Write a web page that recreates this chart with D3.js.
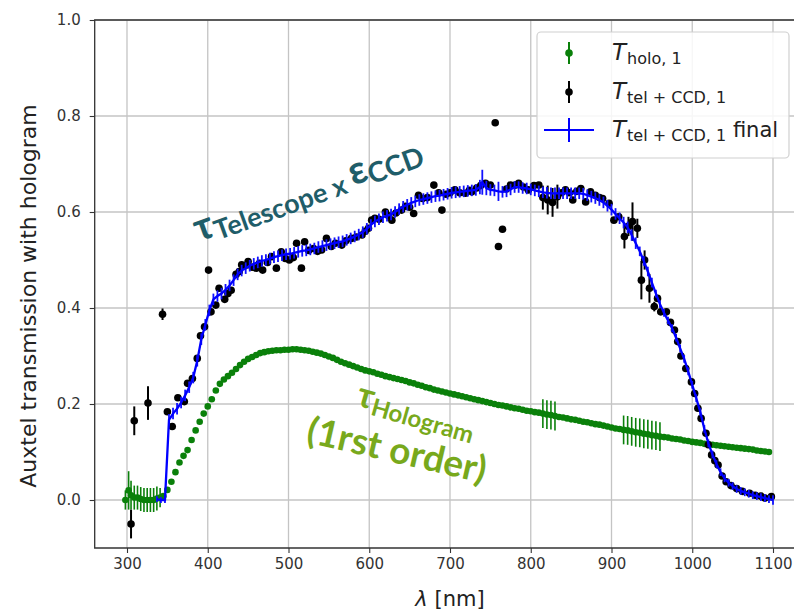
<!DOCTYPE html>
<html>
<head>
<meta charset="utf-8">
<script src="https://cdn.jsdelivr.net/npm/d3@7"></script>
<style>
  html, body { margin: 0; background: #fff; overflow: hidden; }
  svg { display: block; }
</style>
</head>
<body>
<svg id="chart" width="820" height="613"></svg>
<script>
// T_holo,1 : [wavelength nm, transmission, error]
const holoData = [
  [298, 0.000, 0.020], [302, 0.020, 0.040], [305, 0.010, 0.030], [309, 0.005, 0.025],
  [313, 0.005, 0.025], [317, 0.002, 0.025], [321, 0.000, 0.025], [325, 0.000, 0.025],
  [329, 0.000, 0.025], [333, 0.000, 0.025], [337, 0.003, 0.025], [341, 0.005, 0.020],
  [345, 0.008, 0], [350, 0.021, 0], [355, 0.038, 0], [360, 0.058, 0], [365, 0.078, 0],
  [370, 0.092, 0], [375, 0.104, 0], [380, 0.125, 0], [385, 0.145, 0], [390, 0.163, 0],
  [395, 0.180, 0], [400, 0.195, 0], [405, 0.210, 0], [410, 0.228, 0], [415, 0.242, 0],
  [420, 0.251, 0], [425, 0.258, 0], [430, 0.265, 0], [435, 0.273, 0], [440, 0.281, 0],
  [445, 0.288, 0], [450, 0.294, 0], [455, 0.298, 0], [460, 0.302, 0], [465, 0.306, 0],
  [470, 0.308, 0], [475, 0.310, 0], [480, 0.311, 0], [485, 0.312, 0], [490, 0.312, 0],
  [495, 0.313, 0], [500, 0.313, 0], [505, 0.314, 0], [510, 0.314, 0], [515, 0.313, 0],
  [520, 0.312, 0], [525, 0.311, 0], [530, 0.309, 0], [535, 0.307, 0], [540, 0.305, 0],
  [545, 0.302, 0], [550, 0.299, 0], [555, 0.296, 0], [560, 0.292, 0], [565, 0.288, 0],
  [570, 0.285, 0], [575, 0.282, 0], [580, 0.279, 0], [585, 0.276, 0], [590, 0.273, 0],
  [595, 0.270, 0], [600, 0.268, 0], [605, 0.266, 0], [610, 0.263, 0], [615, 0.261, 0],
  [620, 0.258, 0], [625, 0.256, 0], [630, 0.254, 0], [635, 0.252, 0], [640, 0.250, 0],
  [645, 0.248, 0], [650, 0.245, 0], [655, 0.243, 0], [660, 0.240, 0], [665, 0.238, 0],
  [670, 0.235, 0], [675, 0.233, 0], [680, 0.230, 0], [685, 0.228, 0], [690, 0.226, 0],
  [695, 0.224, 0], [700, 0.222, 0], [705, 0.220, 0], [710, 0.218, 0], [715, 0.216, 0],
  [720, 0.214, 0], [725, 0.212, 0], [730, 0.210, 0], [735, 0.208, 0], [740, 0.206, 0],
  [745, 0.204, 0], [750, 0.202, 0], [755, 0.200, 0], [760, 0.198, 0], [765, 0.197, 0],
  [770, 0.195, 0], [775, 0.193, 0], [780, 0.191, 0], [785, 0.190, 0], [790, 0.188, 0],
  [795, 0.186, 0], [800, 0.185, 0], [805, 0.183, 0], [810, 0.182, 0], [815, 0.180, 0.03],
  [820, 0.178, 0.03], [825, 0.177, 0.03], [830, 0.175, 0.03], [835, 0.173, 0], [840, 0.172, 0],
  [845, 0.170, 0], [850, 0.168, 0], [855, 0.167, 0], [860, 0.165, 0], [865, 0.163, 0],
  [870, 0.162, 0], [875, 0.160, 0], [880, 0.158, 0], [885, 0.157, 0], [890, 0.155, 0],
  [895, 0.153, 0], [900, 0.151, 0], [905, 0.149, 0], [910, 0.148, 0], [915, 0.146, 0.03],
  [920, 0.145, 0.03], [925, 0.143, 0.03], [930, 0.141, 0.03], [935, 0.140, 0.03], [940, 0.138, 0.03],
  [945, 0.137, 0.03], [950, 0.135, 0.03], [955, 0.134, 0.03], [960, 0.132, 0.03], [965, 0.131, 0],
  [970, 0.130, 0], [975, 0.128, 0], [980, 0.127, 0], [985, 0.126, 0], [990, 0.124, 0],
  [995, 0.123, 0], [1000, 0.121, 0], [1005, 0.120, 0], [1010, 0.119, 0], [1015, 0.117, 0],
  [1020, 0.116, 0], [1025, 0.115, 0], [1030, 0.114, 0], [1035, 0.113, 0], [1040, 0.112, 0],
  [1045, 0.111, 0], [1050, 0.110, 0], [1055, 0.109, 0], [1060, 0.108, 0], [1065, 0.107, 0],
  [1070, 0.106, 0], [1075, 0.105, 0], [1080, 0.103, 0], [1085, 0.102, 0], [1090, 0.101, 0],
  [1095, 0.100, 0]
];

// T_tel+CCD,1 : [wavelength nm, transmission, error]
const telData = [
  [305, -0.050, 0.030], [309, 0.165, 0.030], [326, 0.202, 0.035], [344, 0.387, 0.012],
  [350, 0.184, 0], [356, 0.153, 0], [363, 0.213, 0], [371, 0.205, 0], [375, 0.243, 0],
  [381, 0.253, 0], [387, 0.295, 0], [391, 0.342, 0], [396, 0.361, 0], [401, 0.479, 0.006],
  [404, 0.392, 0], [410, 0.406, 0], [414, 0.441, 0], [421, 0.418, 0], [425, 0.430, 0],
  [429, 0.437, 0], [435, 0.470, 0], [439, 0.476, 0], [442, 0.490, 0], [446, 0.488, 0],
  [450, 0.497, 0], [455, 0.485, 0], [460, 0.483, 0], [464, 0.493, 0], [468, 0.479, 0],
  [474, 0.495, 0], [479, 0.507, 0], [485, 0.483, 0], [491, 0.517, 0], [496, 0.503, 0],
  [501, 0.500, 0], [506, 0.505, 0], [510, 0.535, 0], [516, 0.483, 0], [520, 0.538, 0],
  [525, 0.520, 0], [531, 0.524, 0], [536, 0.518, 0], [541, 0.521, 0], [547, 0.545, 0],
  [553, 0.528, 0], [558, 0.535, 0], [566, 0.531, 0], [571, 0.540, 0], [578, 0.545, 0],
  [584, 0.548, 0], [591, 0.552, 0], [595, 0.560, 0], [599, 0.566, 0], [603, 0.583, 0],
  [607, 0.587, 0], [612, 0.585, 0], [620, 0.600, 0], [624, 0.592, 0], [628, 0.583, 0],
  [633, 0.598, 0], [640, 0.604, 0], [645, 0.612, 0], [650, 0.610, 0], [655, 0.597, 0],
  [661, 0.635, 0], [666, 0.628, 0], [672, 0.630, 0], [680, 0.656, 0], [686, 0.640, 0],
  [690, 0.604, 0], [695, 0.637, 0], [700, 0.640, 0], [706, 0.646, 0], [712, 0.640, 0],
  [719, 0.639, 0], [724, 0.645, 0], [727, 0.642, 0], [733, 0.650, 0], [738, 0.655, 0],
  [744, 0.660, 0], [750, 0.656, 0], [756, 0.786, 0], [760, 0.528, 0], [765, 0.564, 0],
  [770, 0.648, 0], [775, 0.656, 0], [781, 0.656, 0], [785, 0.660, 0], [791, 0.652, 0],
  [797, 0.646, 0], [804, 0.655, 0], [810, 0.656, 0], [815, 0.630, 0.025], [821, 0.625, 0.030],
  [827, 0.620, 0.030], [833, 0.632, 0.025], [838, 0.640, 0], [843, 0.646, 0], [848, 0.640, 0],
  [852, 0.625, 0], [857, 0.643, 0], [862, 0.649, 0], [868, 0.621, 0], [874, 0.642, 0],
  [880, 0.635, 0], [885, 0.630, 0], [889, 0.628, 0], [897, 0.618, 0], [903, 0.583, 0],
  [909, 0.590, 0], [916, 0.549, 0.025], [921, 0.570, 0.020], [926, 0.580, 0.040], [932, 0.566, 0.020],
  [937, 0.458, 0.040], [941, 0.500, 0.020], [947, 0.441, 0.030], [953, 0.403, 0.010], [957, 0.420, 0],
  [961, 0.392, 0], [968, 0.392, 0], [973, 0.370, 0], [978, 0.354, 0], [982, 0.330, 0],
  [986, 0.300, 0], [992, 0.274, 0], [999, 0.246, 0], [1003, 0.222, 0], [1007, 0.191, 0],
  [1011, 0.170, 0], [1017, 0.139, 0], [1020, 0.115, 0], [1024, 0.094, 0], [1028, 0.082, 0],
  [1032, 0.073, 0], [1037, 0.050, 0], [1042, 0.038, 0], [1048, 0.030, 0], [1055, 0.024, 0],
  [1062, 0.018, 0], [1071, 0.014, 0], [1078, 0.010, 0], [1085, 0.008, 0], [1090, 0.004, 0],
  [1098, 0.007, 0]
];

// T_tel+CCD,1 final : [wavelength nm, transmission, error]
const finalData = [
  [337, 0.002, 0.006], [342, 0.000, 0.006], [347, 0.000, 0.006], [352, 0.167, 0.012],
  [357, 0.180, 0.012], [362, 0.190, 0.012], [367, 0.203, 0.012], [372, 0.218, 0.012],
  [377, 0.235, 0.012], [382, 0.255, 0.012], [387, 0.290, 0.012], [392, 0.335, 0.012],
  [397, 0.365, 0.012], [402, 0.395, 0.012], [407, 0.418, 0.012], [412, 0.425, 0.012],
  [417, 0.430, 0.012], [422, 0.438, 0.012], [427, 0.447, 0.012], [432, 0.458, 0.012],
  [437, 0.470, 0.012], [442, 0.478, 0.012], [447, 0.483, 0.012], [452, 0.488, 0.012],
  [457, 0.492, 0.012], [462, 0.495, 0.012], [467, 0.498, 0.012], [472, 0.500, 0.012],
  [477, 0.503, 0.012], [482, 0.506, 0.012], [487, 0.508, 0.012], [492, 0.510, 0.012],
  [497, 0.512, 0.012], [502, 0.513, 0.012], [507, 0.515, 0.012], [512, 0.517, 0.012],
  [517, 0.519, 0.012], [522, 0.520, 0.012], [527, 0.522, 0.012], [532, 0.524, 0.012],
  [537, 0.527, 0.012], [542, 0.529, 0.012], [547, 0.531, 0.012], [552, 0.533, 0.012],
  [557, 0.535, 0.012], [562, 0.537, 0.012], [567, 0.539, 0.012], [572, 0.542, 0.012],
  [577, 0.545, 0.012], [582, 0.549, 0.012], [587, 0.553, 0.012], [592, 0.558, 0.012],
  [597, 0.565, 0.012], [602, 0.573, 0.012], [607, 0.580, 0.012], [612, 0.585, 0.012],
  [617, 0.589, 0.012], [622, 0.592, 0.012], [627, 0.595, 0.012], [632, 0.600, 0.012],
  [637, 0.606, 0.012], [642, 0.611, 0.012], [647, 0.615, 0.012], [652, 0.619, 0.012],
  [657, 0.622, 0.012], [662, 0.625, 0.012], [667, 0.627, 0.012], [672, 0.629, 0.012],
  [677, 0.631, 0.012], [682, 0.633, 0.012], [687, 0.634, 0.012], [692, 0.636, 0.012],
  [697, 0.638, 0.012], [702, 0.640, 0.012], [707, 0.641, 0.012], [712, 0.642, 0.012],
  [717, 0.643, 0.012], [722, 0.644, 0.012], [727, 0.645, 0.012], [732, 0.646, 0.012],
  [737, 0.652, 0.015], [740, 0.662, 0.026], [745, 0.650, 0.015], [750, 0.646, 0.012],
  [755, 0.645, 0.012], [760, 0.643, 0.020], [765, 0.642, 0.012], [770, 0.643, 0.012],
  [775, 0.647, 0.012], [780, 0.652, 0.012], [785, 0.652, 0.012], [790, 0.650, 0.012],
  [795, 0.649, 0.012], [800, 0.647, 0.012], [805, 0.645, 0.012], [810, 0.643, 0.012],
  [815, 0.641, 0.012], [820, 0.640, 0.012], [825, 0.639, 0.012], [830, 0.639, 0.012],
  [835, 0.639, 0.012], [840, 0.639, 0.012], [845, 0.639, 0.012], [850, 0.639, 0.012],
  [855, 0.639, 0.012], [860, 0.639, 0.012], [865, 0.638, 0.012], [870, 0.635, 0.012],
  [875, 0.632, 0.012], [880, 0.629, 0.012], [885, 0.625, 0.012], [890, 0.620, 0.012],
  [895, 0.613, 0.012], [900, 0.605, 0.012], [905, 0.596, 0.012], [910, 0.587, 0.012],
  [915, 0.578, 0.012], [920, 0.568, 0.012], [925, 0.552, 0.012], [930, 0.535, 0.012],
  [935, 0.518, 0.010], [940, 0.498, 0.010], [945, 0.476, 0.010], [950, 0.453, 0.010],
  [955, 0.430, 0.008], [960, 0.408, 0.008], [965, 0.390, 0.008], [970, 0.374, 0.008],
  [975, 0.358, 0.008], [980, 0.338, 0.008], [985, 0.316, 0.008], [990, 0.294, 0.008],
  [995, 0.268, 0.008], [1000, 0.240, 0.008], [1005, 0.212, 0.008], [1010, 0.183, 0.008],
  [1015, 0.148, 0.008], [1020, 0.118, 0.008], [1025, 0.095, 0.008], [1030, 0.075, 0.008],
  [1035, 0.058, 0.008], [1040, 0.045, 0.008], [1045, 0.036, 0.008], [1050, 0.029, 0.008],
  [1055, 0.023, 0.008], [1060, 0.019, 0.008], [1065, 0.016, 0.008], [1070, 0.013, 0.008],
  [1075, 0.010, 0.008], [1080, 0.008, 0.008], [1085, 0.006, 0.008], [1090, 0.004, 0.008],
  [1095, 0.002, 0.008], [1100, 0.000, 0.010]
];

const xTicks = [300, 400, 500, 600, 700, 800, 900, 1000, 1100];
const yTicks = [0.0, 0.2, 0.4, 0.6, 0.8, 1.0];

const svg = d3.select("#chart");
const plotL = 94.7, plotR = 805.3, plotT = 20, plotB = 548;

const x = d3.scaleLinear().domain([260, 1140]).range([plotL, plotR]);
const y = d3.scaleLinear().domain([-0.1, 1.0]).range([plotB, plotT]);

const tickFont = "'DejaVu Sans', sans-serif";

// grid
const grid = svg.append("g");
grid.selectAll(".gx").data(xTicks).enter().append("line")
    .attr("x1", d => x(d)).attr("x2", d => x(d))
    .attr("y1", plotT).attr("y2", plotB)
    .attr("stroke", "#c4c4c4").attr("stroke-width", 1.3);
grid.selectAll(".gy").data(yTicks).enter().append("line")
    .attr("x1", plotL).attr("x2", plotR)
    .attr("y1", d => y(d)).attr("y2", d => y(d))
    .attr("stroke", "#c4c4c4").attr("stroke-width", 1.3);

// axes
const xAxis = svg.append("g")
    .attr("transform", `translate(0,${plotB})`)
    .call(d3.axisBottom(x).tickValues(xTicks).tickSize(5).tickPadding(5).tickFormat(d3.format("d")));
const yAxis = svg.append("g")
    .attr("transform", `translate(${plotL},0)`)
    .call(d3.axisLeft(y).tickValues(yTicks).tickSize(5).tickPadding(9).tickFormat(d3.format(".1f")));
[xAxis, yAxis].forEach(a => {
    a.select(".domain").remove();
    a.selectAll("text").attr("font-family", tickFont).attr("font-size", 15).attr("fill", "#333");
    a.selectAll("line").attr("stroke", "#333").attr("stroke-width", 1.1);
});

// frame (right side lies outside the picture)
svg.append("path")
    .attr("d", `M${plotR},${plotT}H${plotL}V${plotB}H${plotR}`)
    .attr("fill", "none").attr("stroke", "#333").attr("stroke-width", 1.3);

const plot = svg.append("g");

// green series
plot.append("g").selectAll("line").data(holoData.filter(d => d[2] > 0)).enter().append("line")
    .attr("x1", d => x(d[0])).attr("x2", d => x(d[0]))
    .attr("y1", d => y(d[1] - d[2])).attr("y2", d => y(d[1] + d[2]))
    .attr("stroke", "#0a800a").attr("stroke-width", 1.6);
plot.append("g").selectAll("circle").data(holoData).enter().append("circle")
    .attr("cx", d => x(d[0])).attr("cy", d => y(d[1])).attr("r", 3.3)
    .attr("fill", "#0a800a");

// black series
plot.append("g").selectAll("line").data(telData.filter(d => d[2] > 0)).enter().append("line")
    .attr("x1", d => x(d[0])).attr("x2", d => x(d[0]))
    .attr("y1", d => y(d[1] - d[2])).attr("y2", d => y(d[1] + d[2]))
    .attr("stroke", "#000").attr("stroke-width", 2);
plot.append("g").selectAll("circle").data(telData).enter().append("circle")
    .attr("cx", d => x(d[0])).attr("cy", d => y(d[1])).attr("r", 3.8)
    .attr("fill", "#000");

// blue final
plot.append("g").selectAll("line").data(finalData).enter().append("line")
    .attr("x1", d => x(d[0])).attr("x2", d => x(d[0]))
    .attr("y1", d => y(d[1] - d[2])).attr("y2", d => y(d[1] + d[2]))
    .attr("stroke", "#1010ff").attr("stroke-width", 1.8);
plot.append("path").datum(finalData)
    .attr("d", d3.line().x(d => x(d[0])).y(d => y(d[1])))
    .attr("fill", "none").attr("stroke", "#0000ff").attr("stroke-width", 2.3);

// axis labels
svg.append("text")
    .attr("x", x(700)).attr("y", 606)
    .attr("text-anchor", "middle")
    .attr("font-family", tickFont).attr("font-size", 21).attr("fill", "#222")
    .html('<tspan font-style="italic">λ</tspan> [nm]');
svg.append("text")
    .attr("transform", "translate(36,296) rotate(-90)")
    .attr("text-anchor", "middle")
    .attr("font-family", tickFont).attr("font-size", 22).attr("fill", "#222")
    .text("Auxtel transmission with hologram");

// annotations
svg.append("text")
    .attr("transform", "translate(199,242) rotate(-20)")
    .attr("font-family", "Lato, sans-serif").attr("font-weight", "bold").attr("fill", "#1f5d69")
    .html('<tspan font-size="39">τ</tspan><tspan font-size="27" dy="5">Telescope x </tspan>' +
          '<tspan font-size="39" dy="-5">ε</tspan><tspan font-size="28" dy="5">CCD</tspan>');
svg.append("text")
    .attr("transform", "translate(355,405) rotate(16)")
    .attr("font-family", "Lato, sans-serif").attr("font-weight", "bold").attr("fill", "#78a91c")
    .html('<tspan font-size="35">τ</tspan><tspan font-size="24" dy="5">Hologram</tspan>');
svg.append("text")
    .attr("transform", "translate(305,442) rotate(13)")
    .attr("font-family", "Lato, sans-serif").attr("font-weight", "bold").attr("fill", "#78a91c")
    .attr("font-size", 37)
    .text("(1rst order)");

// legend
const lg = svg.append("g");
lg.append("rect")
    .attr("x", 537).attr("y", 32).attr("width", 252).attr("height", 126).attr("rx", 4)
    .attr("fill", "#fff").attr("fill-opacity", 0.85)
    .attr("stroke", "#d0d0d0").attr("stroke-width", 1.2);
const legendItems = [
    { color: "#0a800a", sub: "holo, 1", extra: "", yc: 53, type: "dot" },
    { color: "#000", sub: "tel + CCD, 1", extra: "", yc: 92, type: "dot" },
    { color: "#0000ff", sub: "tel + CCD, 1", extra: " final", yc: 130, type: "cross" }
];
legendItems.forEach(it => {
    if (it.type === "dot") {
        lg.append("line").attr("x1", 569).attr("x2", 569)
            .attr("y1", it.yc - 11).attr("y2", it.yc + 11)
            .attr("stroke", it.color).attr("stroke-width", 2);
        lg.append("circle").attr("cx", 569).attr("cy", it.yc).attr("r", 3.8).attr("fill", it.color);
    } else {
        lg.append("line").attr("x1", 544).attr("x2", 594)
            .attr("y1", it.yc).attr("y2", it.yc)
            .attr("stroke", it.color).attr("stroke-width", 2.2);
        lg.append("line").attr("x1", 569).attr("x2", 569)
            .attr("y1", it.yc - 12).attr("y2", it.yc + 12)
            .attr("stroke", it.color).attr("stroke-width", 2);
    }
    lg.append("text")
        .attr("x", 612).attr("y", it.yc + 7)
        .attr("font-family", tickFont).attr("fill", "#222")
        .html(`<tspan font-size="23" font-style="italic">T</tspan>` +
              `<tspan font-size="16" dy="4" dx="1">${it.sub}</tspan>` +
              (it.extra ? `<tspan font-size="21" dy="-4">${it.extra}</tspan>` : ""));
});
</script>
</body>
</html>
